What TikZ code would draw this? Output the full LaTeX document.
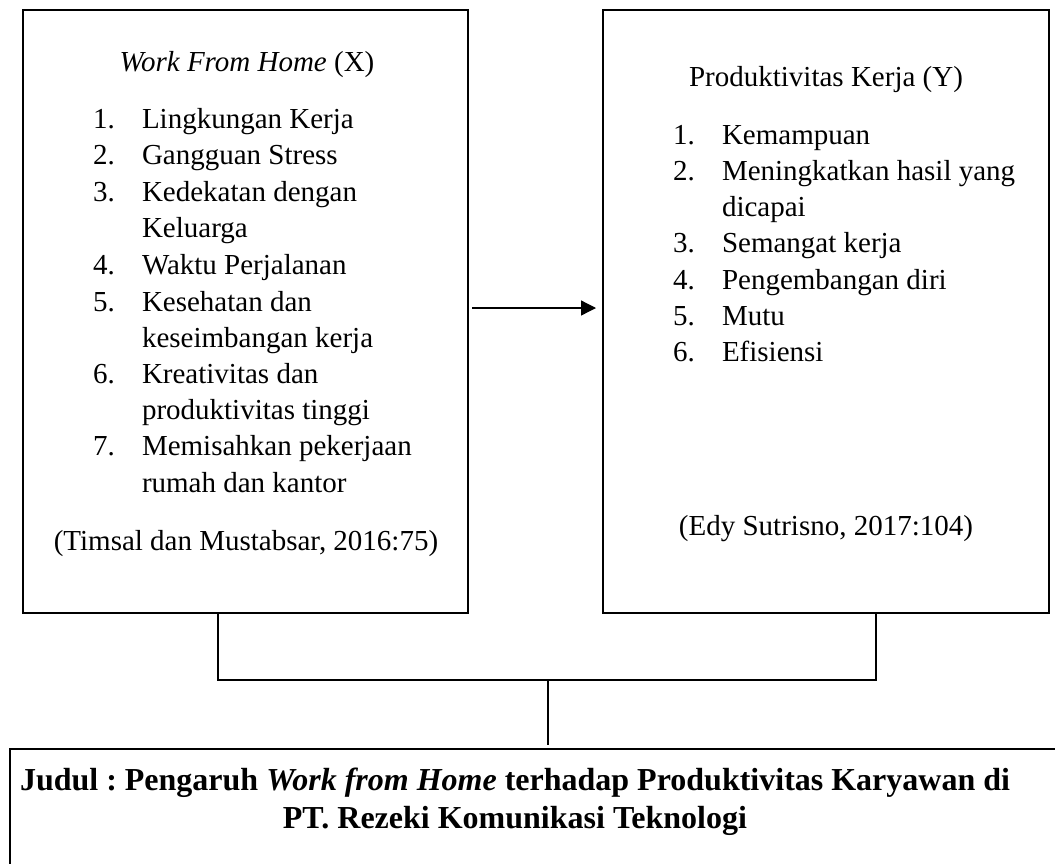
\documentclass[tikz,border=0pt]{standalone}
\usepackage{fontspec}
\setmainfont{Liberation Serif}
\usetikzlibrary{arrows.meta}
\begin{document}
\frenchspacing
\begin{tikzpicture}[x=1pt,y=-1pt,
  txt/.style={inner sep=0pt,outer sep=0pt,font=\fontsize{29}{36.6}\selectfont},
  numl/.style={txt,anchor=base west},
  itm/.style={txt,anchor=base west},
  ctr/.style={txt,anchor=base},
  boldtxt/.style={inner sep=0pt,outer sep=0pt,font=\fontsize{32}{38}\selectfont\bfseries},
  bigbox/.style={draw,line width=2.6pt,inner sep=0pt,outer sep=0pt},
  conn/.style={line width=1.1pt},
  arr/.style={line width=1.3pt,-{Triangle[length=15pt,width=15pt]}}]
\clip (0,0) rectangle (1055,863);
\useasboundingbox (0,0) rectangle (1055,863);
% boxes
\node[bigbox,minimum width=445pt,minimum height=603pt] (L) at (245.5,311.5) {};
\node[bigbox,minimum width=446pt,minimum height=603pt] (R) at (826,311.5) {};
\node[bigbox,minimum width=1076pt,minimum height=200pt] (B) at (548,849) {};
% left box text
\node[ctr] (lt) at (247,71) {\textit{Work From Home} (X)};
\foreach \n/\y in {1/128,2/164,3/201,4/274,5/311,6/383,7/455}
  \node[numl] (ln\n) at (93,\y) {\n.};
\node[itm] (l1) at (142,128) {Lingkungan Kerja};
\node[itm] (l2) at (142,164) {Gangguan Stress};
\node[itm] (l3) at (142,201) {Kedekatan dengan};
\node[itm] (l3b) at (142,237) {Keluarga};
\node[itm] (l4) at (142,274) {Waktu Perjalanan};
\node[itm] (l5) at (142,311) {Kesehatan dan};
\node[itm] (l5b) at (142,347) {keseimbangan kerja};
\node[itm] (l6) at (142,383) {Kreativitas dan};
\node[itm] (l6b) at (142,419) {produktivitas tinggi};
\node[itm] (l7) at (142,455) {Memisahkan pekerjaan};
\node[itm] (l7b) at (142,492) {rumah dan kantor};
\node[ctr] (lsrc) at (246,550) {(Timsal dan Mustabsar, 2016:75)};
% right box text
\node[ctr] (rt) at (826,86) {Produktivitas Kerja (Y)};
\foreach \n/\y in {1/144,2/180,3/252,4/289,5/325,6/361}
  \node[numl] (rn\n) at (673,\y) {\n.};
\node[itm] (r1) at (722,144) {Kemampuan};
\node[itm] (r2) at (722,180) {Meningkatkan hasil yang};
\node[itm] (r2b) at (722,216) {dicapai};
\node[itm] (r3) at (722,252) {Semangat kerja};
\node[itm] (r4) at (722,289) {Pengembangan diri};
\node[itm] (r5) at (722,325) {Mutu};
\node[itm] (r6) at (722,361) {Efisiensi};
\node[ctr] (rsrc) at (826,535) {(Edy Sutrisno, 2017:104)};
% bottom text
\node[boldtxt,anchor=base west] (b1) at (20,790) {Judul : Pengaruh \textit{Work from Home} terhadap Produktivitas Karyawan di};
\node[boldtxt,anchor=base east] (b2) at (747,828) {PT. Rezeki Komunikasi Teknologi};
% connectors
\coordinate (j) at (548,680);
\draw[arr] ([xshift=4pt,yshift=3.5pt]L.east) -- ([xshift=-7pt,yshift=3.5pt]R.west);
\draw[conn] ([xshift=-27.5pt]L.south) |- (j) -| ([xshift=50pt]R.south);
\draw[conn] (j) -- ([yshift=4pt]B.north);
\end{tikzpicture}
\end{document}
